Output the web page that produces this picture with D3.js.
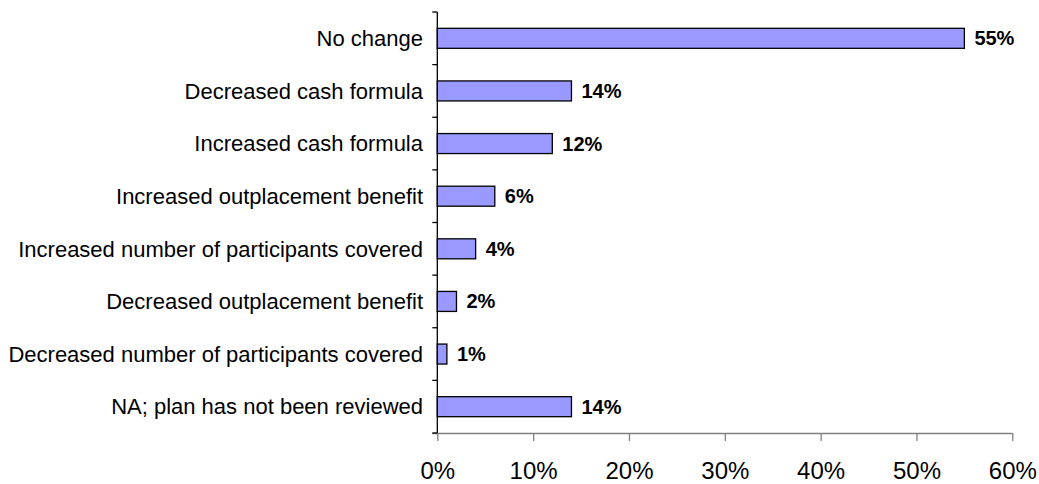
<!DOCTYPE html>
<html>
<head>
<meta charset="utf-8">
<script src="https://cdn.jsdelivr.net/npm/d3@7/dist/d3.min.js"></script>
<style>
  html, body { margin: 0; padding: 0; background: #fff; }
  svg { display: block; font-family: "Liberation Sans", Arial, sans-serif; }
</style>
</head>
<body>
<svg id="chart" width="1039" height="484"></svg>
<script>
// Survey responses: changes made to the severance plan
const categories = [
  "No change",
  "Decreased cash formula",
  "Increased cash formula",
  "Increased outplacement benefit",
  "Increased number of participants covered",
  "Decreased outplacement benefit",
  "Decreased number of participants covered",
  "NA; plan has not been reviewed"
];
const values = [55, 14, 12, 6, 4, 2, 1, 14];
const xTicks = [0, 10, 20, 30, 40, 50, 60];

const svg = d3.select("#chart");
const plot = { left: 437.3, right: 1012.3, top: 12, bottom: 433 };

const x = d3.scaleLinear().domain([0, 60]).range([plot.left, plot.right]);
const y = d3.scaleBand()
  .domain(categories)
  .range([plot.top, plot.bottom])
  .paddingInner(0.62)
  .paddingOuter(0.31);

// Bottom axis (grey)
const xAxis = svg.append("g")
  .attr("transform", `translate(0,${plot.bottom})`)
  .call(d3.axisBottom(x).tickValues(xTicks).tickFormat(d => d + "%").tickSize(8).tickSizeOuter(0));
xAxis.select(".domain")
  .attr("d", `M${plot.left - 5},0.5H${plot.right}`)
  .attr("stroke", "#808080")
  .attr("stroke-width", 1.3);
xAxis.selectAll(".tick line").attr("stroke", "#808080").attr("stroke-width", 1.3);
xAxis.selectAll(".tick text")
  .attr("y", 46)
  .attr("dy", null)
  .attr("fill", "#000")
  .style("font-size", "24px")
  .style("font-family", "'Liberation Sans', Arial, sans-serif");

// Left axis line with tick marks between categories
const yAxis = svg.append("g");
yAxis.append("line")
  .attr("x1", plot.left).attr("x2", plot.left)
  .attr("y1", plot.top).attr("y2", plot.bottom)
  .attr("stroke", "#000").attr("stroke-width", 1.3);
const boundaries = d3.range(categories.length + 1).map(i => plot.top + i * y.step());
yAxis.selectAll("line.tick")
  .data(boundaries)
  .join("line")
  .attr("class", "tick")
  .attr("x1", plot.left - 5).attr("x2", plot.left)
  .attr("y1", d => d).attr("y2", d => d)
  .attr("stroke", "#000").attr("stroke-width", 1.3);

// Category labels
svg.append("g").selectAll("text")
  .data(categories)
  .join("text")
  .attr("x", 423)
  .attr("y", d => y(d) + y.bandwidth() / 2)
  .attr("dy", "0.35em")
  .attr("text-anchor", "end")
  .style("font-size", "22px")
  .attr("fill", "#000")
  .text(d => d);

// Bars
svg.append("g").selectAll("rect")
  .data(values)
  .join("rect")
  .attr("x", x(0))
  .attr("y", (d, i) => y(categories[i]))
  .attr("width", d => x(d) - x(0))
  .attr("height", y.bandwidth())
  .attr("fill", "#9999FF")
  .attr("stroke", "#000")
  .attr("stroke-width", 1.3);

// Value labels
svg.append("g").selectAll("text")
  .data(values)
  .join("text")
  .attr("x", d => x(d) + 10)
  .attr("y", (d, i) => y(categories[i]) + y.bandwidth() / 2)
  .attr("dy", "0.35em")
  .style("font-size", "20px")
  .style("font-weight", "bold")
  .attr("fill", "#000")
  .text(d => d + "%");
</script>
</body>
</html>
